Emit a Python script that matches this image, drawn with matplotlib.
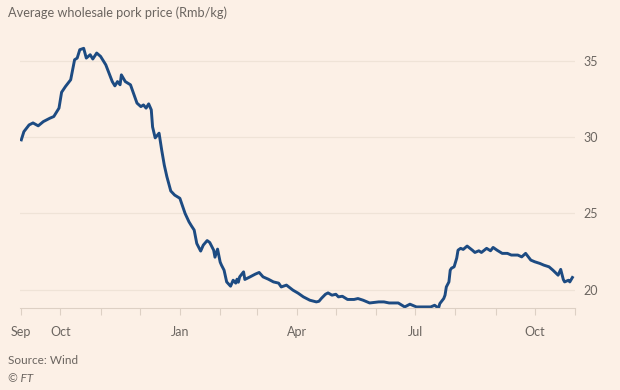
# -*- coding: utf-8 -*-

import matplotlib
matplotlib.use('Agg')
import matplotlib.pyplot as plt
import matplotlib.dates as mdates
import pandas as pd

dates = [
    '2022-09-01', '2022-09-03', '2022-09-07', '2022-09-10', '2022-09-14', '2022-09-18',
    '2022-09-23', '2022-09-26', '2022-09-30', '2022-10-02', '2022-10-05', '2022-10-09',
    '2022-10-12', '2022-10-14', '2022-10-16', '2022-10-19', '2022-10-21', '2022-10-24',
    '2022-10-26', '2022-10-29', '2022-11-01', '2022-11-05', '2022-11-07', '2022-11-10',
    '2022-11-12', '2022-11-14', '2022-11-16', '2022-11-17', '2022-11-20', '2022-11-24',
    '2022-11-29', '2022-12-02', '2022-12-04', '2022-12-06', '2022-12-08', '2022-12-10',
    '2022-12-11', '2022-12-13', '2022-12-16', '2022-12-18', '2022-12-20', '2022-12-22',
    '2022-12-25', '2022-12-28', '2023-01-01', '2023-01-05', '2023-01-08', '2023-01-10',
    '2023-01-12', '2023-01-14', '2023-01-17', '2023-01-19', '2023-01-22', '2023-01-24',
    '2023-01-27', '2023-01-28', '2023-01-30', '2023-02-01', '2023-02-02', '2023-02-04',
    '2023-02-06', '2023-02-09', '2023-02-11', '2023-02-13', '2023-02-14', '2023-02-15',
    '2023-02-16', '2023-02-19', '2023-02-20', '2023-02-24', '2023-02-28', '2023-03-03',
    '2023-03-06', '2023-03-10', '2023-03-14', '2023-03-18', '2023-03-20', '2023-03-24',
    '2023-03-27', '2023-03-29', '2023-04-02', '2023-04-06', '2023-04-11', '2023-04-16',
    '2023-04-18', '2023-04-20', '2023-04-23', '2023-04-25', '2023-04-28', '2023-05-01',
    '2023-05-03', '2023-05-06', '2023-05-10', '2023-05-15', '2023-05-18', '2023-05-22',
    '2023-05-27', '2023-06-03', '2023-06-07', '2023-06-11', '2023-06-18', '2023-06-23',
    '2023-06-27', '2023-07-02', '2023-07-07', '2023-07-13', '2023-07-16', '2023-07-19',
    '2023-07-20', '2023-07-23', '2023-07-24', '2023-07-25', '2023-07-27', '2023-07-28',
    '2023-07-29', '2023-07-31', '2023-08-02', '2023-08-03', '2023-08-05', '2023-08-07',
    '2023-08-10', '2023-08-14', '2023-08-16', '2023-08-19', '2023-08-21', '2023-08-25',
    '2023-08-28', '2023-08-30', '2023-09-02', '2023-09-06', '2023-09-10', '2023-09-13',
    '2023-09-18', '2023-09-21', '2023-09-24', '2023-09-28', '2023-10-01', '2023-10-05',
    '2023-10-08', '2023-10-12', '2023-10-15', '2023-10-19', '2023-10-21', '2023-10-23',
    '2023-10-24', '2023-10-27', '2023-10-28', '2023-10-30',
]

price = [
    29.82, 30.36, 30.80, 30.93, 30.74, 31.02,
    31.24, 31.35, 31.90, 32.94, 33.32, 33.76,
    35.07, 35.18, 35.73, 35.82, 35.18, 35.40,
    35.12, 35.51, 35.29, 34.74, 34.30, 33.64,
    33.36, 33.64, 33.43, 34.08, 33.64, 33.43,
    32.23, 32.00, 32.11, 31.90, 32.18, 31.79,
    30.67, 29.95, 30.26, 29.16, 28.17, 27.41,
    26.47, 26.20, 25.99, 25.00, 24.45, 24.17,
    23.91, 23.03, 22.53, 22.92, 23.22, 23.09,
    22.59, 22.13, 22.66, 21.81, 21.61, 21.28,
    20.51, 20.23, 20.62, 20.43, 20.69, 20.49,
    20.84, 21.17, 20.67, 20.84, 21.02, 21.13,
    20.84, 20.69, 20.51, 20.43, 20.18, 20.30,
    20.10, 19.97, 19.77, 19.53, 19.31, 19.20,
    19.24, 19.44, 19.70, 19.79, 19.64, 19.70,
    19.53, 19.57, 19.36, 19.36, 19.42, 19.31,
    19.13, 19.20, 19.20, 19.13, 19.13, 18.87,
    19.05, 18.87, 18.87, 18.87, 18.98, 18.79,
    19.09, 19.42, 19.64, 20.18, 20.51, 21.28,
    21.41, 21.50, 22.07, 22.59, 22.71, 22.64,
    22.86, 22.59, 22.44, 22.55, 22.44, 22.71,
    22.55, 22.77, 22.59, 22.38, 22.38, 22.27,
    22.27, 22.15, 22.38, 21.94, 21.83, 21.72,
    21.61, 21.50, 21.28, 20.95, 21.33, 20.67,
    20.51, 20.62, 20.51, 20.80,
]

tick_dates = ['2022-09-01', '2022-10-01', '2023-01-01', '2023-04-01', '2023-07-01', '2023-10-01']
tick_labels = ['Sep', 'Oct', 'Jan', 'Apr', 'Jul', 'Oct']
y_ticks = [20, 25, 30, 35]

bg = '#FCF0E6'
grid_col = '#EFE3D7'
tick_col = '#DDD0C4'
text_col = '#6B6560'
line_col = '#1D4B82'

plt.rcParams['font.family'] = ['Lato', 'DejaVu Sans']

fig = plt.figure(figsize=(6.2, 3.9), dpi=100, facecolor=bg)
ax = fig.add_axes([20 / 620, 1 - 308 / 390, 555 / 620, 267 / 390])
ax.set_facecolor(bg)

x = pd.to_datetime(dates)
ax.plot(x, price, color=line_col, linewidth=2.1, solid_joinstyle='round')

ax.set_xlim(pd.Timestamp('2022-08-31'), pd.Timestamp('2023-11-01'))
ax.set_ylim(18.8, 36.3)

# y axis on the right, labels only
ax.yaxis.tick_right()
ax.set_yticks(y_ticks)
ax.tick_params(axis='y', length=0, pad=6, labelsize=9, labelcolor=text_col)
ax.grid(axis='y', color=grid_col, linewidth=0.9)

ax.set_xticks(pd.to_datetime(tick_dates))
ax.set_xticklabels(tick_labels)
ax.xaxis.set_minor_locator(mdates.MonthLocator())
ax.tick_params(axis='x', which='both', length=5, width=0.8, color=tick_col,
               direction='out', pad=8, labelsize=9, labelcolor=text_col)

for side in ['top', 'left', 'right']:
    ax.spines[side].set_visible(False)
ax.spines['bottom'].set_color(tick_col)
ax.spines['bottom'].set_linewidth(0.8)

fig.text(8 / 620, 1 - 13 / 390, 'Average wholesale pork price (Rmb/kg)',
         fontsize=9.2, color=text_col, va='center', ha='left')
fig.text(8 / 620, 1 - 361 / 390, 'Source: Wind', fontsize=8.5, color=text_col,
         va='center', ha='left')
fig.text(8 / 620, 1 - 378 / 390, '\u00a9 FT', fontsize=8.5, color=text_col,
         va='center', ha='left', style='italic')

plt.savefig('out.png', dpi=100, facecolor=bg)
